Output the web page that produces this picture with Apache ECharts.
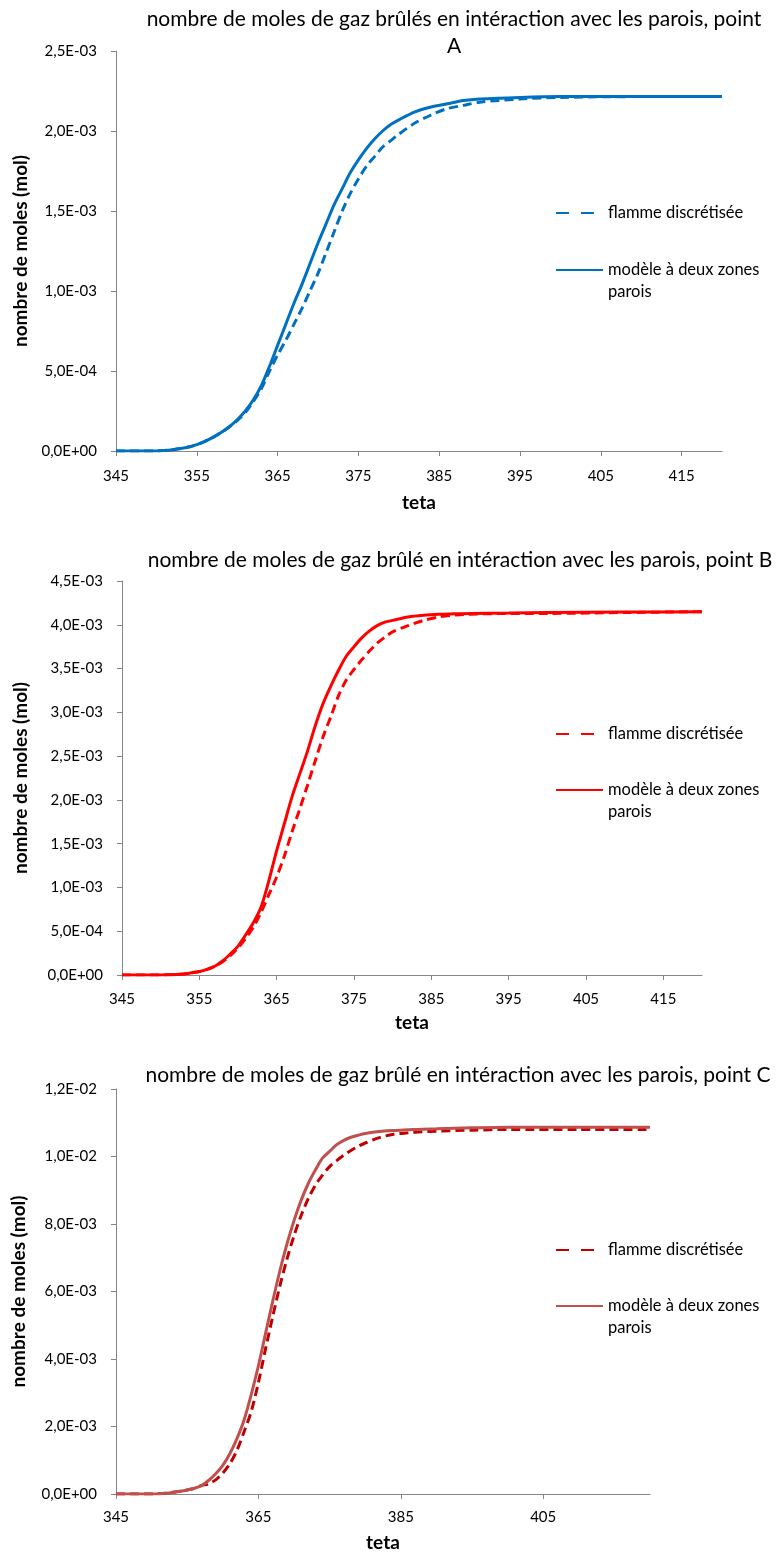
<!DOCTYPE html>
<html lang="fr">
<head>
<meta charset="UTF-8">
<title>nombre de moles de gaz brûlés en intéraction avec les parois</title>
<style>
    body { margin: 0; background: #fff; }
    .chart { position: absolute; left: 0; width: 777px; }
</style>
</head>
<body>
<div id="chartA" class="chart" style="top:0;height:520px"></div>
<div id="chartB" class="chart" style="top:520px;height:520px"></div>
<div id="chartC" class="chart" style="top:1040px;height:514px"></div>

<script src="https://cdn.jsdelivr.net/npm/echarts@6/dist/echarts.min.js"></script>
<script>
// crank angle (teta), shared by all three charts
const theta = [345, 348, 350, 351, 352, 353, 354, 355, 356, 357, 358, 359, 360, 361, 362, 363, 364, 365, 366, 367,
    368, 369, 370, 371, 372, 373, 374, 375, 376, 377, 378, 379, 380, 382, 384, 386, 388, 390, 395, 400, 410, 420];

// moles, in units of 1e-3 mol
const flammeA = [0, 0, 0, 0.003, 0.008, 0.015, 0.025, 0.04, 0.06, 0.085, 0.115, 0.15, 0.19, 0.24, 0.31, 0.39, 0.50, 0.60, 0.69, 0.79,
    0.89, 1.00, 1.11, 1.24, 1.37, 1.50, 1.61, 1.70, 1.78, 1.84, 1.90, 1.94, 1.98, 2.05, 2.10, 2.14, 2.16, 2.18, 2.20, 2.21, 2.215, 2.215];
const deuxZonesA = [0, 0, 0, 0.003, 0.008, 0.015, 0.025, 0.04, 0.06, 0.085, 0.115, 0.15, 0.195, 0.25, 0.32, 0.41, 0.53, 0.66, 0.79, 0.92,
    1.04, 1.17, 1.30, 1.42, 1.54, 1.64, 1.74, 1.82, 1.89, 1.95, 2.00, 2.04, 2.07, 2.12, 2.15, 2.17, 2.19, 2.20, 2.21, 2.215, 2.215, 2.215];

const flammeB = [0, 0, 0, 0.002, 0.005, 0.012, 0.025, 0.04, 0.065, 0.10, 0.15, 0.22, 0.31, 0.42, 0.55, 0.72, 0.92, 1.12, 1.36, 1.64,
    1.90, 2.17, 2.45, 2.72, 2.95, 3.19, 3.37, 3.49, 3.60, 3.70, 3.79, 3.86, 3.92, 3.99, 4.05, 4.09, 4.11, 4.12, 4.13, 4.13, 4.14, 4.15];
const deuxZonesB = [0, 0, 0, 0.002, 0.005, 0.012, 0.025, 0.04, 0.065, 0.10, 0.16, 0.24, 0.33, 0.46, 0.60, 0.78, 1.08, 1.42, 1.73, 2.04,
    2.30, 2.56, 2.85, 3.10, 3.30, 3.48, 3.64, 3.75, 3.85, 3.93, 3.99, 4.03, 4.05, 4.09, 4.11, 4.12, 4.125, 4.13, 4.135, 4.14, 4.145, 4.15];

const flammeC = [0, 0, 0, 0.005, 0.02, 0.05, 0.08, 0.12, 0.17, 0.25, 0.30, 0.42, 0.62, 0.90, 1.30, 1.85, 2.45, 3.30, 4.30, 5.25,
    6.15, 6.95, 7.65, 8.25, 8.75, 9.15, 9.45, 9.70, 9.88, 10.04, 10.18, 10.30, 10.40, 10.56, 10.66, 10.70, 10.73, 10.75, 10.78, 10.80, 10.80, 10.80];
const deuxZonesC = [0, 0, 0, 0.005, 0.02, 0.05, 0.08, 0.12, 0.17, 0.25, 0.40, 0.60, 0.85, 1.20, 1.65, 2.20, 2.95, 3.80, 4.75, 5.70,
    6.60, 7.40, 8.10, 8.70, 9.20, 9.60, 9.95, 10.15, 10.35, 10.48, 10.57, 10.63, 10.68, 10.74, 10.77, 10.79, 10.81, 10.82, 10.85, 10.87, 10.87, 10.87];

// x tick labels
const xTicksAB = [345, 355, 365, 375, 385, 395, 405, 415];
const xTicksC = [345, 365, 385, 405];

const NAME_FLAMME = 'flamme discrétisée';
const NAME_DEUX = 'modèle à deux zones parois';
const FONT = 'Lato, "Open Sans", sans-serif';
const AXIS_GREY = '#868686';

// 0.0025 -> "2,5E-03"
function sciLabel(v) {
    if (Math.abs(v) < 1e-12) return '0,0E+00';
    let exp = Math.floor(Math.log10(Math.abs(v)));
    let mant = Math.round(v / Math.pow(10, exp) * 10) / 10;
    if (mant >= 10) { mant /= 10; exp += 1; }
    const e = Math.abs(exp);
    return mant.toFixed(1).replace('.', ',') + 'E' + (exp < 0 ? '-' : '+') + (e < 10 ? '0' + e : e);
}

function toPoints(ys) {
    return theta.map((t, i) => [t, ys[i] * 1e-3]);
}

function buildOption(c) {
    return {
        animation: false,
        textStyle: { fontFamily: FONT },
        graphic: [{
            type: 'text',
            x: c.titleX,
            y: c.titleY,
            style: {
                text: c.title,
                align: 'center',
                verticalAlign: 'middle',
                fontFamily: FONT,
                fontSize: 21,
                lineHeight: 27,
                fill: '#000'
            }
        }],
        legend: {
            orient: 'vertical',
            left: 555,
            top: c.legendTop,
            padding: 0,
            itemWidth: 47,
            itemHeight: 14,
            itemGap: c.legendGap,
            selectedMode: false,
            itemStyle: { opacity: 0 },   // hide the marker dot, keep the line
            textStyle: { fontFamily: FONT, fontSize: 16.5, color: '#000', lineHeight: 22 },
            formatter: n => n === NAME_DEUX ? '\nmodèle à deux zones\nparois' : n,
            data: [
                { name: NAME_FLAMME, lineStyle: { type: [13, 12, 13, 100] } },
                { name: NAME_DEUX }
            ]
        },
        grid: { left: c.grid[0], top: c.grid[1], width: c.grid[2], height: c.grid[3], outerBoundsMode: 'none' },
        xAxis: {
            type: 'value',
            min: 345,
            max: 420,
            name: 'teta',
            nameLocation: 'middle',
            nameGap: c.xNameGap,
            nameTextStyle: { fontFamily: FONT, fontWeight: 'bold', fontSize: 19, color: '#000' },
            axisLine: { lineStyle: { color: AXIS_GREY } },
            axisTick: { customValues: c.xTicks, length: 5, lineStyle: { color: AXIS_GREY } },
            axisLabel: { customValues: c.xTicks, margin: c.xLabelMargin, fontSize: 15, color: '#000' },
            splitLine: { show: false }
        },
        yAxis: {
            type: 'value',
            min: 0,
            max: c.yMax,
            interval: c.yStep,
            name: 'nombre de moles (mol)',
            nameLocation: 'middle',
            nameGap: c.yNameGap,
            nameRotate: 90,
            nameTextStyle: { fontFamily: FONT, fontWeight: 'bold', fontSize: 19, color: '#000' },
            axisLine: { show: true, lineStyle: { color: AXIS_GREY } },
            axisTick: { show: true, length: 5, lineStyle: { color: AXIS_GREY } },
            axisLabel: { formatter: sciLabel, margin: 19, fontSize: 15, color: '#000' },
            splitLine: { show: false }
        },
        series: [
            {
                name: NAME_FLAMME,
                type: 'line',
                data: toPoints(c.flamme),
                symbol: 'none',
                smooth: 0.3,
                lineStyle: { color: c.dashColor, width: 3, type: [9, 5] },
                itemStyle: { color: c.dashColor }
            },
            {
                name: NAME_DEUX,
                type: 'line',
                data: toPoints(c.deux),
                symbol: 'none',
                smooth: 0.3,
                lineStyle: { color: c.solidColor, width: 3 },
                itemStyle: { color: c.solidColor }
            }
        ]
    };
}

const charts = [
    {
        id: 'chartA',
        title: 'nombre de moles de gaz brûlés en intéraction avec les parois, point\nA',
        titleX: 454, titleY: 33,
        grid: [116, 51, 606, 400],
        yMax: 2.5e-3, yStep: 0.5e-3,
        xTicks: xTicksAB, xLabelMargin: 18, xNameGap: 42, yNameGap: 86,
        legendTop: 202, legendGap: 13,
        flamme: flammeA, deux: deuxZonesA,
        dashColor: '#0070C0', solidColor: '#0070C0'
    },
    {
        id: 'chartB',
        title: 'nombre de moles de gaz brûlé en intéraction avec les parois, point B',
        titleX: 460, titleY: 40,
        grid: [122, 61, 580, 394],
        yMax: 4.5e-3, yStep: 0.5e-3,
        xTicks: xTicksAB, xLabelMargin: 17, xNameGap: 38, yNameGap: 92,
        legendTop: 203, legendGap: 12,
        flamme: flammeB, deux: deuxZonesB,
        dashColor: '#FF0000', solidColor: '#FF0000'
    },
    {
        id: 'chartC',
        title: 'nombre de moles de gaz brûlé en intéraction avec les parois, point C',
        titleX: 458, titleY: 35,
        grid: [116, 49, 534, 405],
        yMax: 1.2e-2, yStep: 2e-3,
        xTicks: xTicksC, xLabelMargin: 16, xNameGap: 39, yNameGap: 88,
        legendTop: 199, legendGap: 12,
        flamme: flammeC, deux: deuxZonesC,
        dashColor: '#C00000', solidColor: '#C0504D'
    }
];

charts.forEach(c => {
    const chart = echarts.init(document.getElementById(c.id));
    chart.setOption(buildOption(c));
    window.addEventListener('resize', () => chart.resize());
});
</script>
</body>
</html>
